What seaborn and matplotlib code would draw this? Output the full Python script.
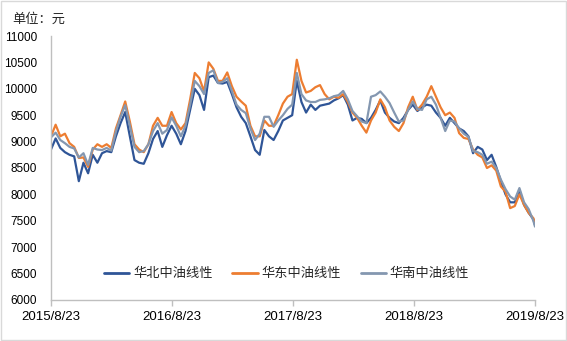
import numpy as np
import pandas as pd
import matplotlib
matplotlib.use("Agg")
import matplotlib.pyplot as plt
from matplotlib.patches import Rectangle
import seaborn as sns

# Biweekly linear PE price, yuan/ton
north = [8850, 9060, 8880, 8800, 8750, 8720, 8250, 8600, 8400, 8750,
         8600, 8780, 8820, 8800, 9100, 9350, 9560, 9100, 8650, 8600,
         8580, 8780, 9050, 9200, 8900, 9120, 9300, 9150, 8950, 9200,
         9600, 10000, 9880, 9600, 10220, 10250, 10110, 10100, 10130, 9900,
         9650, 9470, 9350, 9100, 8840, 8750, 9220, 9100, 9030, 9200,
         9400, 9450, 9500, 10150, 9750, 9550, 9700, 9600, 9680, 9700,
         9720, 9780, 9820, 9880, 9700, 9400, 9450, 9430, 9350, 9450,
         9600, 9780, 9550, 9450, 9380, 9350, 9450, 9600, 9700, 9580,
         9650, 9700, 9680, 9550, 9450, 9300, 9450, 9350, 9250, 9200,
         9100, 8780, 8900, 8850, 8650, 8750, 8520, 8250, 8000, 7850,
         7850, 8080, 7800, 7650, 7530, 7420]
east = [9100, 9320, 9100, 9150, 8970, 8900, 8690, 8700, 8520, 8850,
        8950, 8900, 8950, 8880, 9250, 9500, 9760, 9380, 8950, 8850,
        8800, 8950, 9300, 9450, 9300, 9300, 9560, 9350, 9230, 9350,
        9800, 10300, 10200, 9950, 10500, 10380, 10150, 10150, 10310, 10050,
        9850, 9760, 9680, 9300, 9100, 9100, 9400, 9300, 9300, 9500,
        9720, 9850, 9900, 10550, 10150, 9930, 9960, 10030, 10070, 9900,
        9800, 9850, 9830, 9900, 9750, 9550, 9450, 9300, 9170, 9400,
        9550, 9800, 9650, 9400, 9280, 9200, 9350, 9650, 9850, 9600,
        9700, 9850, 10050, 9850, 9650, 9500, 9550, 9450, 9160, 9070,
        9050, 8850, 8750, 8700, 8500, 8550, 8450, 8150, 8050, 7740,
        7780, 8000, 7800, 7650, 7550, 7450]
south = [9080, 9170, 9030, 8970, 8900, 8870, 8700, 8780, 8560, 8880,
         8850, 8840, 8880, 8830, 9190, 9470, 9690, 9300, 8900, 8800,
         8820, 8950, 9200, 9350, 9150, 9220, 9460, 9300, 9100, 9300,
         9700, 10150, 10050, 9900, 10300, 10350, 10110, 10130, 10200, 9960,
         9700, 9600, 9540, 9250, 9030, 9150, 9470, 9470, 9280, 9400,
         9500, 9620, 9700, 10300, 9900, 9780, 9750, 9750, 9790, 9800,
         9820, 9860, 9880, 9960, 9800, 9580, 9480, 9380, 9350, 9850,
         9880, 9950, 9850, 9730, 9550, 9380, 9400, 9600, 9760, 9620,
         9600, 9800, 9850, 9700, 9450, 9200, 9400, 9380, 9250, 9150,
         9090, 8820, 8800, 8750, 8580, 8620, 8500, 8280, 8100, 7960,
         7900, 8120, 7850, 7720, 7500, 7390]

series_names = ["华北中油线性", "华东中油线性", "华南中油线性"]
colors = ["#2F5597", "#ED7D31", "#8497B0"]
tick_labels = ["2015/8/23", "2016/8/23", "2017/8/23", "2018/8/23", "2019/8/23"]
y_ticks = [6000, 6500, 7000, 7500, 8000, 8500, 9000, 9500, 10000, 10500, 11000]

dates = list(pd.date_range("2015-08-23", periods=105, freq="14D")) + [pd.Timestamp("2019-08-23")]
df = pd.concat([
    pd.DataFrame({"date": dates, "price": vals, "region": name})
    for name, vals in zip(series_names, [north, east, south])
])

sns.set_theme(style="white")
plt.rcParams["font.family"] = ["Liberation Sans", "Noto Sans CJK SC"]

fig = plt.figure(figsize=(5.67, 3.41), dpi=100)
ax = fig.add_axes([51 / 567, 1 - 300 / 341, 484 / 567, 264 / 341])

sns.lineplot(data=df, x="date", y="price", hue="region", hue_order=series_names,
             palette=colors, linewidth=1.6, ax=ax, legend=True)

tick_dates = [pd.Timestamp(t.replace("/", "-")) for t in tick_labels]
ax.set_xlim(tick_dates[0], tick_dates[-1])
ax.set_xticks(tick_dates)
ax.set_xticklabels(tick_labels, fontsize=9.5)
ax.set_ylim(6000, 11000)
ax.set_yticks(y_ticks)
ax.set_yticklabels([str(v) for v in y_ticks], fontsize=8.5)
ax.set_xlabel("")
ax.set_ylabel("")

for side in ["top", "right"]:
    ax.spines[side].set_visible(False)
for side in ["left", "bottom"]:
    ax.spines[side].set_color("#BFBFBF")
    ax.spines[side].set_linewidth(1.0)
ax.tick_params(axis="x", direction="out", length=4, width=1, color="#BFBFBF",
               pad=4, labelcolor="#000000", bottom=True)
ax.tick_params(axis="y", length=0, pad=10, labelcolor="#000000")

leg = ax.legend(loc="lower center", bbox_to_anchor=(0.487, 0.03), ncol=3, frameon=False,
                fontsize=9.5, handlelength=1.9, handletextpad=0.3, columnspacing=1.5)
for line in leg.get_lines():
    line.set_linewidth(2.0)

fig.text(12 / 567, 1 - 19 / 341, "单位：元", fontsize=9.5, va="center", ha="left")

fig.patches.append(Rectangle((0.001, 0.002), 0.997, 0.995, transform=fig.transFigure,
                             fill=False, edgecolor="#D9D9D9", linewidth=1.0))

fig.savefig("out.png", dpi=100)
